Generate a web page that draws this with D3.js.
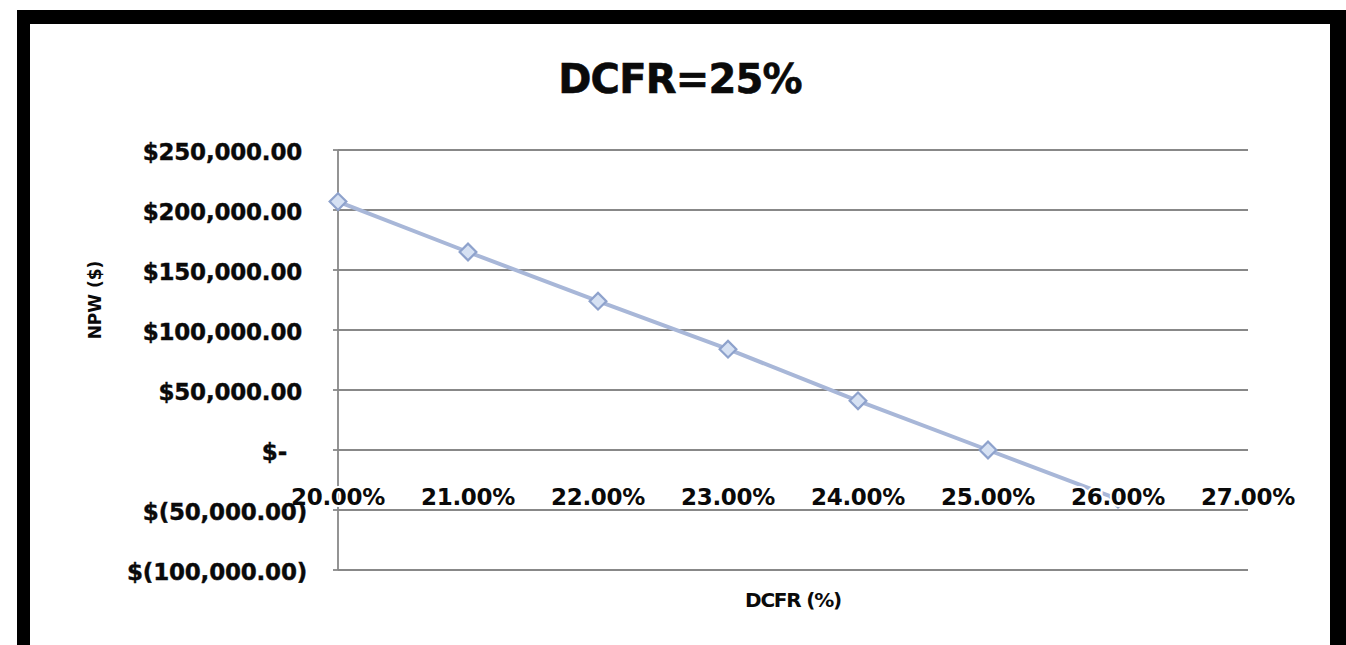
<!DOCTYPE html>
<html>
<head>
<meta charset="utf-8">
<script src="https://cdn.jsdelivr.net/npm/d3@7"></script>
<style>
  html, body { margin: 0; padding: 0; background: #fff; }
  svg { display: block; }
  text { font-family: "DejaVu Sans", sans-serif; font-weight: bold; fill: #0a0a0a; }
</style>
</head>
<body>
<svg id="chart" width="1346" height="645"></svg>
<script>
// ---- data ----
const rates = [0.20, 0.21, 0.22, 0.23, 0.24, 0.25, 0.26];
const npw = [207000, 165000, 124000, 84000, 41000, 0, -41000];
const xTicks = [0.20, 0.21, 0.22, 0.23, 0.24, 0.25, 0.26, 0.27];
const yTicks = [250000, 200000, 150000, 100000, 50000, 0, -50000, -100000];
const yTickLabels = ["$250,000.00", "$200,000.00", "$150,000.00", "$100,000.00", "$50,000.00", "$-", "$(50,000.00)", "$(100,000.00)"];
const title = "DCFR=25%";
const xTitle = "DCFR (%)";
const yTitle = "NPW ($)";

const W = 1346, H = 645;
const svg = d3.select("#chart");

// frame
svg.append("rect").attr("x", 17).attr("y", 10).attr("width", 1329).attr("height", H).attr("fill", "#000");
svg.append("rect").attr("x", 30).attr("y", 24).attr("width", 1300).attr("height", H).attr("fill", "#fff");

const plot = { left: 338, right: 1248, top: 150, bottom: 570 };
const x = d3.scaleLinear().domain([0.20, 0.27]).range([plot.left, plot.right]);
const y = d3.scaleLinear().domain([-100000, 250000]).range([plot.bottom, plot.top]);

// gridlines
svg.append("g").selectAll("line").data(yTicks).join("line")
  .attr("x1", plot.left).attr("x2", plot.right)
  .attr("y1", d => y(d)).attr("y2", d => y(d))
  .attr("stroke", "#888").attr("stroke-width", 1.8);

// y axis line + tick marks
svg.append("line").attr("x1", plot.left).attr("x2", plot.left)
  .attr("y1", plot.top).attr("y2", plot.bottom)
  .attr("stroke", "#888").attr("stroke-width", 1.8);
svg.append("g").selectAll("line").data(yTicks).join("line")
  .attr("x1", plot.left - 5).attr("x2", plot.left)
  .attr("y1", d => y(d)).attr("y2", d => y(d))
  .attr("stroke", "#888").attr("stroke-width", 1.8);

// series line
const line = d3.line().x((d, i) => x(rates[i])).y(d => y(d));
svg.append("path").datum(npw).attr("d", line)
  .attr("fill", "none").attr("stroke", "#a8b7d8").attr("stroke-width", 4)
  .attr("stroke-linejoin", "round");

// markers
svg.append("g").selectAll("path").data(npw).join("path")
  .attr("d", d3.symbol(d3.symbolSquare, 140)())
  .attr("transform", (d, i) => `translate(${x(rates[i])},${y(d)}) rotate(45)`)
  .attr("fill", "#d6e1f3").attr("stroke", "#8ea2cc").attr("stroke-width", 2.2);

// x tick labels (with halo, drawn over the series)
svg.append("g").selectAll("text").data(xTicks).join("text")
  .attr("x", d => x(d)).attr("y", y(-50000) - 5)
  .attr("text-anchor", "middle")
  .attr("font-size", 23)
  .attr("letter-spacing", -0.3)
  .attr("stroke", "#fff").attr("stroke-width", 4).attr("paint-order", "stroke")
  .text(d => (d * 100).toFixed(2) + "%");

// y tick labels
svg.append("g").selectAll("text").data(yTicks).join("text")
  .attr("x", (d, i) => d < 0 ? 307 : (d === 0 ? 287 : 302))
  .attr("y", d => y(d) + 2)
  .attr("dominant-baseline", "central")
  .attr("text-anchor", "end")
  .attr("font-size", 23)
  .attr("letter-spacing", -0.2)
  .attr("stroke", "#0a0a0a").attr("stroke-width", 0.4)
  .text((d, i) => yTickLabels[i]);

// title
svg.append("text").attr("x", 680).attr("y", 93).attr("text-anchor", "middle")
  .attr("font-size", 40).attr("letter-spacing", -0.8)
  .attr("stroke", "#0a0a0a").attr("stroke-width", 0.6).text(title);

// axis titles
svg.append("text").attr("x", 793).attr("y", 607).attr("text-anchor", "middle")
  .attr("font-size", 20).attr("letter-spacing", -1.2).text(xTitle);
svg.append("text").attr("transform", "translate(101,300) rotate(-90)")
  .attr("text-anchor", "middle").attr("font-size", 17).text(yTitle);
</script>
</body>
</html>
